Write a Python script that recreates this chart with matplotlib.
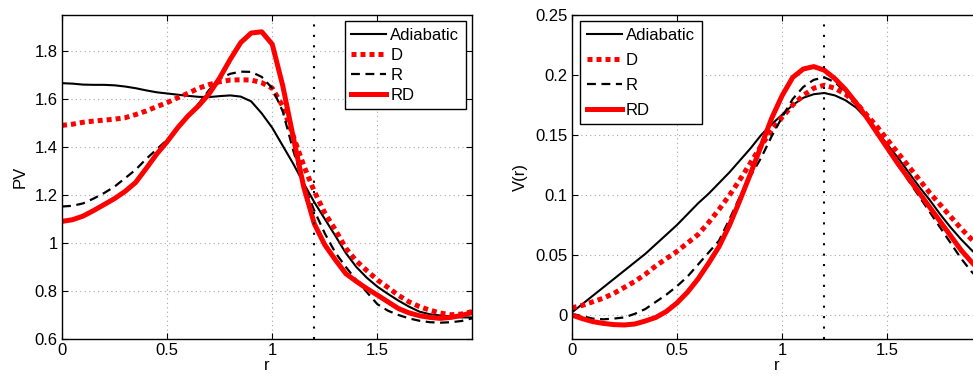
import matplotlib
matplotlib.use("Agg")
import matplotlib.pyplot as plt
from matplotlib.ticker import FormatStrFormatter

plt.rcParams["font.family"] = ["Liberation Sans", "DejaVu Sans"]
plt.rcParams["font.size"] = 12

# radius grid shared by all curves
r = [0.00, 0.05, 0.10, 0.15, 0.20, 0.25, 0.30, 0.35, 0.40, 0.45,
     0.50, 0.55, 0.60, 0.65, 0.70, 0.75, 0.80, 0.85, 0.90, 0.95,
     1.00, 1.05, 1.10, 1.15, 1.20, 1.25, 1.30, 1.35, 1.40, 1.45,
     1.50, 1.55, 1.60, 1.65, 1.70, 1.75, 1.80, 1.85, 1.90, 1.95]

# left panel: PV
pv_adiabatic = [1.666, 1.664, 1.660, 1.659, 1.659, 1.657, 1.652, 1.645, 1.636, 1.628,
                1.623, 1.618, 1.613, 1.609, 1.608, 1.612, 1.615, 1.610, 1.590, 1.540,
                1.480, 1.405, 1.330, 1.248, 1.170, 1.100, 1.030, 0.958, 0.900, 0.855,
                0.818, 0.788, 0.760, 0.735, 0.714, 0.703, 0.698, 0.694, 0.690, 0.690]
pv_d = [1.490, 1.495, 1.503, 1.508, 1.512, 1.516, 1.522, 1.535, 1.550, 1.568,
        1.585, 1.605, 1.624, 1.645, 1.660, 1.672, 1.679, 1.680, 1.679, 1.668,
        1.645, 1.570, 1.445, 1.322, 1.215, 1.125, 1.055, 0.978, 0.925, 0.885,
        0.846, 0.815, 0.782, 0.755, 0.735, 0.720, 0.708, 0.701, 0.704, 0.714]
pv_r = [1.152, 1.155, 1.165, 1.185, 1.208, 1.235, 1.270, 1.305, 1.350, 1.390,
        1.430, 1.480, 1.530, 1.580, 1.638, 1.685, 1.705, 1.714, 1.713, 1.692,
        1.645, 1.548, 1.385, 1.242, 1.135, 1.040, 0.960, 0.900, 0.845, 0.795,
        0.745, 0.718, 0.700, 0.686, 0.676, 0.670, 0.668, 0.670, 0.675, 0.686]
pv_rd = [1.090, 1.097, 1.112, 1.135, 1.160, 1.185, 1.215, 1.252, 1.310, 1.370,
         1.422, 1.480, 1.530, 1.572, 1.622, 1.688, 1.765, 1.835, 1.875, 1.880,
         1.828, 1.655, 1.440, 1.232, 1.080, 0.992, 0.930, 0.872, 0.840, 0.810,
         0.783, 0.755, 0.727, 0.709, 0.697, 0.690, 0.686, 0.690, 0.698, 0.710]

# right panel: V(r)
v_adiabatic = [0.002, 0.009, 0.016, 0.023, 0.030, 0.037, 0.044, 0.051, 0.059, 0.067,
               0.075, 0.084, 0.093, 0.101, 0.110, 0.119, 0.129, 0.139, 0.150, 0.159,
               0.167, 0.175, 0.181, 0.184, 0.185, 0.183, 0.179, 0.173, 0.164, 0.153,
               0.142, 0.131, 0.119, 0.107, 0.096, 0.084, 0.073, 0.063, 0.054, 0.046]
v_d = [0.006, 0.008, 0.011, 0.014, 0.018, 0.023, 0.028, 0.034, 0.041, 0.047,
       0.053, 0.060, 0.067, 0.077, 0.088, 0.100, 0.113, 0.127, 0.141, 0.154,
       0.165, 0.175, 0.183, 0.189, 0.1915, 0.189, 0.184, 0.177, 0.167, 0.157,
       0.146, 0.135, 0.124, 0.113, 0.102, 0.092, 0.082, 0.072, 0.063, 0.055]
v_r = [0.001, -0.001, -0.003, -0.0036, -0.003, -0.002, 0.001, 0.005, 0.011, 0.017,
       0.024, 0.032, 0.042, 0.052, 0.062, 0.080, 0.099, 0.116, 0.131, 0.149,
       0.165, 0.180, 0.190, 0.196, 0.198, 0.194, 0.186, 0.176, 0.164, 0.151,
       0.138, 0.125, 0.112, 0.099, 0.086, 0.073, 0.060, 0.047, 0.036, 0.027]
v_rd = [0.000, -0.003, -0.0055, -0.007, -0.008, -0.0083, -0.0075, -0.005, -0.002, 0.003,
        0.010, 0.019, 0.030, 0.043, 0.057, 0.075, 0.096, 0.118, 0.141, 0.164,
        0.183, 0.198, 0.205, 0.207, 0.204, 0.197, 0.188, 0.177, 0.165, 0.152,
        0.139, 0.126, 0.114, 0.102, 0.090, 0.078, 0.066, 0.054, 0.044, 0.035]

labels = ["Adiabatic", "D", "R", "RD"]
r_mark = 1.2

W, H = 973, 376
fig = plt.figure(figsize=(W / 100, H / 100), dpi=100)
ax1 = fig.add_axes([62 / W, 1 - 339 / H, 410 / W, 324 / H])
ax2 = fig.add_axes([571.7 / W, 1 - 339 / H, 410.5 / W, 324 / H])


def draw(ax, series):
    ax.plot(r, series[0], color="black", lw=1.5, label=labels[0])
    ax.plot(r, series[1], color="red", lw=3.6, linestyle=(0, (1, 0.8)), label=labels[1])
    ax.plot(r, series[2], color="black", lw=1.6, linestyle=(0, (4, 2.5)), label=labels[2])
    ax.plot(r, series[3], color="red", lw=3.6, label=labels[3])
    ax.axvline(r_mark, color="black", lw=1.5, linestyle=(0, (1, 4)))
    ax.set_xlim(0, 1.95)
    ax.set_xticks([0, 0.5, 1, 1.5])
    ax.xaxis.set_major_formatter(FormatStrFormatter("%g"))
    ax.yaxis.set_major_formatter(FormatStrFormatter("%g"))
    ax.grid(True, color="#a8a8a8", linestyle=(0, (1, 3)), lw=0.8)
    ax.tick_params(direction="in", top=True, right=True, length=4, width=0.8,
                   labelsize=12, pad=3)
    for s in ax.spines.values():
        s.set_linewidth(1.0)
    ax.set_xlabel("r", fontsize=12, labelpad=0)


draw(ax1, [pv_adiabatic, pv_d, pv_r, pv_rd])
ax1.set_ylim(0.6, 1.95)
ax1.set_yticks([0.6, 0.8, 1.0, 1.2, 1.4, 1.6, 1.8])
ax1.set_ylabel("PV", fontsize=12, labelpad=5)
leg1 = ax1.legend(loc="upper right", bbox_to_anchor=(466 / W, 1 - 21 / H),
                  bbox_transform=fig.transFigure, borderaxespad=0,
                  fancybox=False, framealpha=1, edgecolor="black",
                  handlelength=2.1, handletextpad=0.25, labelspacing=0.3,
                  borderpad=0.4, fontsize=12)
leg1.get_frame().set_linewidth(1.0)

draw(ax2, [v_adiabatic, v_d, v_r, v_rd])
ax2.set_ylim(-0.02, 0.25)
ax2.set_yticks([0, 0.05, 0.1, 0.15, 0.2, 0.25])
ax2.set_ylabel("V(r)", fontsize=12, labelpad=5)
leg2 = ax2.legend(loc="upper left", bbox_to_anchor=(580 / W, 1 - 21 / H),
                  bbox_transform=fig.transFigure, borderaxespad=0,
                  fancybox=False, framealpha=1, edgecolor="black",
                  handlelength=2.1, handletextpad=0.25, labelspacing=0.6,
                  borderpad=0.4, fontsize=12)
leg2.get_frame().set_linewidth(1.0)

fig.savefig("out.png", dpi=100)
